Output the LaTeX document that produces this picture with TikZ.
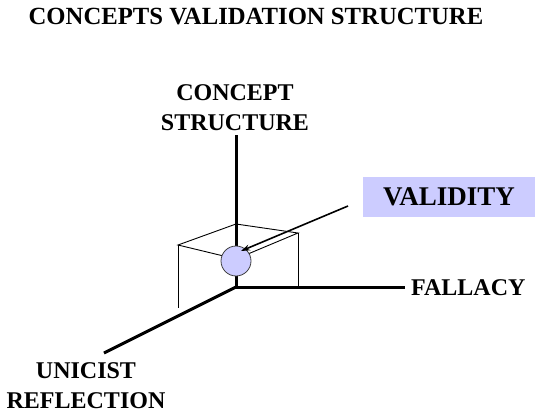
\documentclass[tikz,border=0pt]{standalone}
\usepackage{fontspec}
\setmainfont{Liberation Serif}
\usetikzlibrary{arrows.meta}
\definecolor{lav}{HTML}{CCCCFF}
\begin{document}
\begin{tikzpicture}[x=1pt,y=-1pt,
  lbl/.style={font=\bfseries\fontsize{24}{30}\selectfont,inner sep=0pt,align=center},
  axis/.style={line width=3pt},
  cube/.style={line width=0.9pt},
  pointer/.style={line width=1.6pt,-{Stealth[length=9pt,width=6pt]}}]
\useasboundingbox (0,0) rectangle (538,412);
% labels
\node[lbl,anchor=base,font=\bfseries\fontsize{24.7}{30}\selectfont] (title) at (256,25) {CONCEPTS VALIDATION STRUCTURE};
\node[lbl,anchor=base] (cs) at (235,130) {CONCEPT\\STRUCTURE};
\node[lbl,anchor=base west] (fallacy) at (411,295) {FALLACY};
\node[lbl,anchor=base] (unicist) at (86,408) {UNICIST\\REFLECTION};
\node[fill=lav,minimum width=172pt,minimum height=40pt,inner sep=0pt,
  font=\bfseries\fontsize{27}{30}\selectfont] (validity) at (449,197) {VALIDITY};
% axis coordinates
\coordinate (O) at (236,287);
\coordinate (top) at (236,135);
\coordinate (right) at (405,287);
\coordinate (diag) at (104,353);
% cube coordinates
\coordinate (cb) at (236,224);
\coordinate (cl) at (178,245);
\coordinate (cr) at (298,233);
\coordinate (cf) at (236,259);
\coordinate (clb) at (178,308);
\coordinate (crb) at (298,287);
% cube
\draw[cube] (cl) -- (cb) -- (cr) -- (cf) -- cycle;
\draw[cube] (cl) -- (clb);
\draw[cube] (cr) -- (crb);
% axes
\draw[axis] (top) -- (O);
\draw[axis] (O) -- (right);
\draw[axis] (O) -- (diag);
% ball
\node[circle,fill=lav,draw=black!75,line width=0.8pt,minimum size=30pt,inner sep=0pt] (ball) at (236,261) {};
% arrow
\coordinate (vtail) at (348,206);
\coordinate (vtip) at (241,251);
\draw[pointer] (vtail) -- (vtip);
\end{tikzpicture}
\end{document}
